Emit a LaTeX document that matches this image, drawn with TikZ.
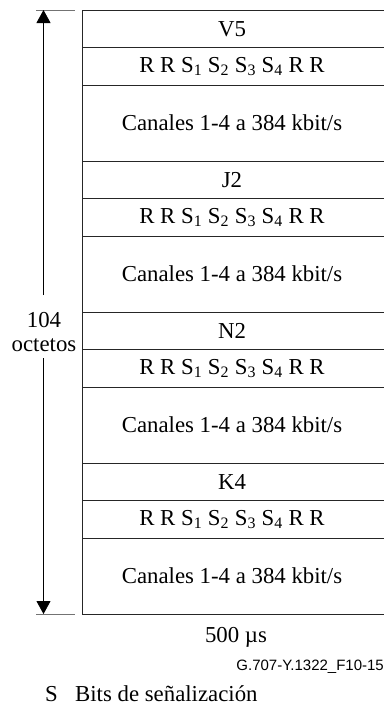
\documentclass[tikz,border=0pt]{standalone}
\usepackage{fontspec}
\setmainfont{Liberation Serif}
\newfontfamily\labelsans{Liberation Sans}
\usetikzlibrary{arrows.meta}
\begin{document}
\begin{tikzpicture}[x=1pt,y=-1pt,
  rowtxt/.style={font=\fontsize{22.8}{26}\selectfont, inner sep=0pt, anchor=center},
  frameline/.style={line width=0.9pt, draw=black!85},
  tickline/.style={line width=0.9pt, draw=black!55},
  dimarrow/.style={line width=0.8pt, -{Triangle[width=14pt,length=13pt]}}]
\useasboundingbox (0,0) rectangle (383,707);
% frame
\draw[frameline] (384,10) -- (82,10) -- (82,614) -- (384,614);
\foreach \g in {0,1,2,3}{
  \pgfmathsetmacro{\ys}{10+151*\g}
  \draw[frameline] (82,\ys+37.75) -- (384,\ys+37.75);
  \draw[frameline] (82,\ys+75.5) -- (384,\ys+75.5);
  \ifnum\g<3 \draw[frameline] (82,\ys+151) -- (384,\ys+151); \fi
}
% row texts
\node[rowtxt] (h1) at (232,29) {V5};
\node[rowtxt] (r1) at (232,66.5) {R R S\textsubscript{1} S\textsubscript{2} S\textsubscript{3} S\textsubscript{4} R R};
\node[rowtxt] (c1) at (232,123) {Canales 1-4 a 384 kbit/s};
\node[rowtxt] (h2) at (232,180) {J2};
\node[rowtxt] (r2) at (232,217.5) {R R S\textsubscript{1} S\textsubscript{2} S\textsubscript{3} S\textsubscript{4} R R};
\node[rowtxt] (c2) at (232,274) {Canales 1-4 a 384 kbit/s};
\node[rowtxt] (h3) at (232,331) {N2};
\node[rowtxt] (r3) at (232,368.5) {R R S\textsubscript{1} S\textsubscript{2} S\textsubscript{3} S\textsubscript{4} R R};
\node[rowtxt] (c3) at (232,425) {Canales 1-4 a 384 kbit/s};
\node[rowtxt] (h4) at (232,482) {K4};
\node[rowtxt] (r4) at (232,519.5) {R R S\textsubscript{1} S\textsubscript{2} S\textsubscript{3} S\textsubscript{4} R R};
\node[rowtxt] (c4) at (232,576) {Canales 1-4 a 384 kbit/s};
% dimension
\draw[tickline] (36,10) -- (75,10);
\draw[tickline] (36,614) -- (75,614);
\coordinate (atop) at (43.5,10);
\coordinate (abot) at (43.5,614);
\node[font=\fontsize{22.8}{24}\selectfont, align=center, inner sep=0pt] (dim) at (44,332) {104\\octetos};
\draw[dimarrow] (43.5,295) -- (atop);
\draw[dimarrow] (43.5,358) -- (abot);
% bottom texts
\node[rowtxt] (time) at (236,637) {500 µs};
\node[font=\labelsans\fontsize{15}{17}\selectfont, anchor=east, inner sep=0pt] (fig) at (384,667) {G.707-Y.1322\_F10-15};
\node[font=\fontsize{22.8}{26}\selectfont, anchor=west, inner sep=0pt] (legS) at (45,694) {S};
\node[font=\fontsize{22.8}{26}\selectfont, anchor=west, inner sep=0pt] (legT) at (75,694) {Bits de señalización};
\end{tikzpicture}
\end{document}
